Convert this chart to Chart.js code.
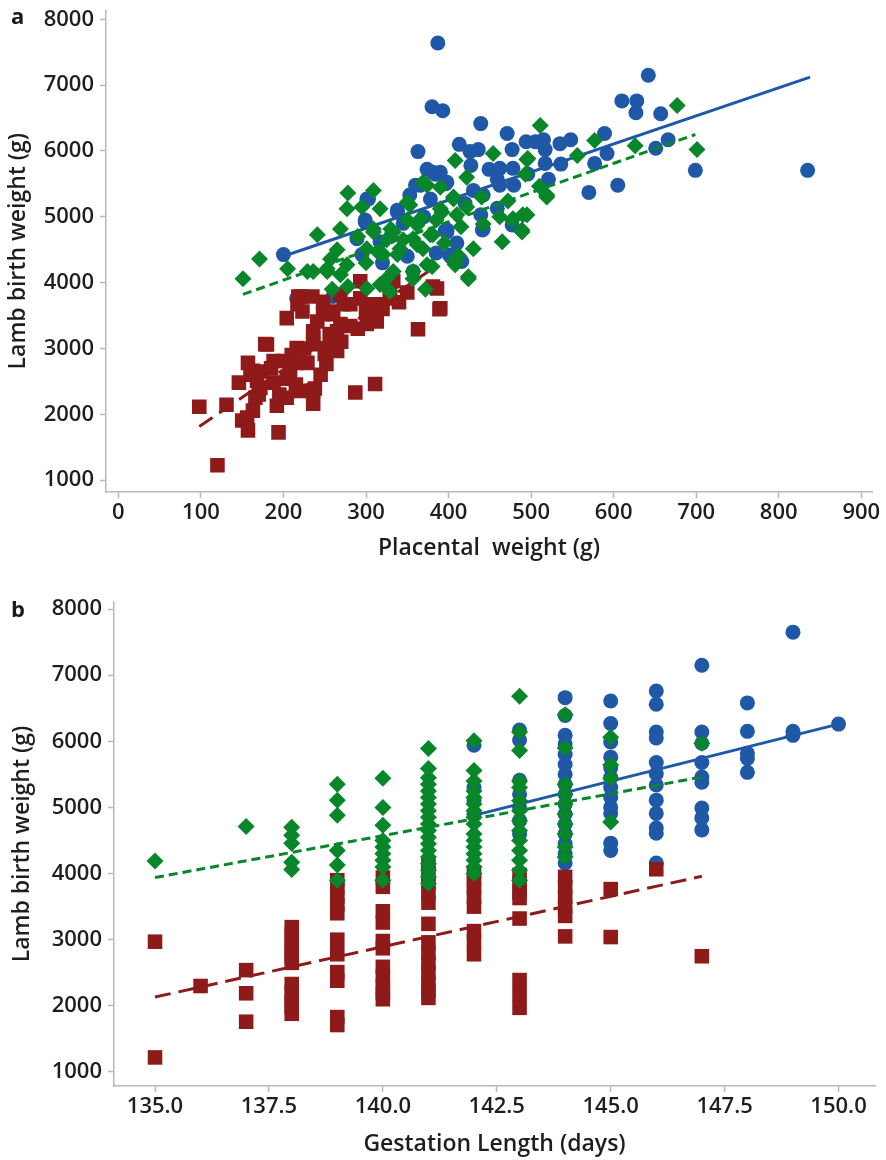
<!DOCTYPE html>
<html><head><meta charset="utf-8">
<script src="https://cdn.jsdelivr.net/npm/chart.js@4.4.1/dist/chart.umd.min.js"></script>
<style>
html,body{margin:0;padding:0;background:#fff;}
body{width:886px;height:1160px;position:relative;overflow:hidden;}
canvas{position:absolute;left:0;}
#ca{top:0px}
#cb{top:588px}
.lbl{position:absolute;font:700 22px/22px 'Open Sans',sans-serif;color:#1a1a1a;}
</style></head><body>
<canvas id="ca" width="886" height="575"></canvas>
<canvas id="cb" width="886" height="572"></canvas>
<div class="lbl" style="left:11px;top:4px">a</div>
<div class="lbl" style="left:11px;top:597px">b</div>
<script>
// ---------- Panel a: placental weight (g) vs lamb birth weight (g) ----------
const aSingles = [[387,7640],[380,6670],[393,6610],[439,6415],[642,7150],[610,6760],[628,6760],[627,6580],[657,6565],[699,5705],[835,5705],[589,6265],[592,5960],[577,5810],[570,5370],[605,5480],[651,6040],[666,6170],[413,6100],[436,6020],[426,5990],[427,5780],[471,6265],[477,6020],[494,6140],[505,6140],[515,6170],[517,6020],[535,6110],[548,6170],[517,5810],[536,5800],[521,5570],[449,5720],[462,5735],[478,5735],[459,5570],[479,5480],[496,5650],[462,5480],[442,5330],[396,5500],[390,5675],[459,5130],[439,5030],[396,4790],[442,4815],[477,4875],[401,4420],[416,4320],[363,5990],[374,5720],[384,5645],[360,5480],[301,5270],[299,4950],[289,4665],[338,5100],[398,4800],[441,4800],[200,4425],[299,4920],[303,5270],[295,4425],[317,4620],[338,5070],[366,5480],[381,5675],[398,5525],[357,4170],[398,4770],[378,5270],[353,5330],[216,3760],[260,3790],[265,3820],[330,4700],[345,4900],[370,5000],[410,4600],[420,5200],[350,4400],[385,4450],[320,4300],[430,5400]];
const aTwins = [[151,4060],[171,4360],[205,4210],[241,4725],[269,4815],[278,5360],[309,5400],[277,5120],[295,5150],[317,5120],[265,4500],[257,4360],[229,4170],[236,4170],[253,4170],[277,4270],[259,3900],[278,3940],[301,3910],[317,3970],[329,3865],[309,4770],[314,4470],[333,4770],[338,4425],[353,5180],[357,4665],[366,4970],[369,4515],[333,4170],[325,4060],[357,4170],[374,4270],[380,4245],[372,3900],[390,5120],[406,5270],[410,5030],[381,4725],[406,4320],[374,5480],[511,6385],[408,5855],[454,5960],[495,5870],[556,5930],[577,6160],[422,5600],[440,5300],[472,5240],[493,5645],[519,5300],[462,5000],[478,4970],[495,5030],[489,4800],[442,4890],[465,4620],[424,4060],[430,4515],[408,4320],[350,5220],[369,5525],[390,5450],[406,5300],[422,5150],[392,5070],[378,4725],[362,4575],[341,4515],[321,4425],[301,4515],[330,4815],[362,4875],[309,4815],[269,4120],[253,4210],[357,4060],[677,6690],[701,6020],[626,6080],[496,5885],[519,5330],[510,5465],[490,5030],[489,4770],[477,4950],[412,4410],[408,4270],[424,4090],[345,4650],[395,4600],[385,4950],[325,4650],[415,4850],[300,4300],[350,4950],[290,4700]];
const aTriplets = [[98,2115],[120,1225],[131,2145],[146,2480],[157,2780],[150,1905],[156,1950],[157,1755],[163,2660],[166,2250],[163,2055],[168,2510],[172,2400],[180,3060],[188,2810],[188,2480],[194,1725],[192,2130],[200,2810],[204,2250],[204,2540],[216,3005],[208,2660],[216,2780],[229,2780],[220,2355],[204,3460],[217,3670],[222,3790],[235,3790],[236,2360],[236,2160],[238,2390],[236,3260],[236,3065],[248,3520],[250,2915],[252,2765],[256,3220],[265,2960],[260,3520],[273,3670],[281,3340],[287,2330],[293,3760],[301,3370],[309,3520],[311,2460],[317,3670],[329,3760],[363,3290],[386,3910],[389,3595],[269,3820],[218,3790],[248,3710],[223,3560],[260,3560],[281,3670],[293,4020],[309,3670],[313,3410],[329,3820],[333,4020],[381,3940],[390,3610],[241,3410],[269,3370],[178,3065],[236,3160],[253,3005],[265,3260],[170,2300],[160,2600],[210,2900],[245,2600],[175,2650],[185,2700],[225,3000],[270,3100],[290,3300],[300,3550],[340,3700],[350,3850],[320,3600],[195,2300],[215,2450]];
const aSinglesFit = [[200,4400],[838,7120]];
const aTwinsFit = [[151,3820],[699,6250]];
const aTripletsFit = [[98,1815],[385,4250]];
const aXTicks = [0,100,200,300,400,500,600,700,800,900];
const aYTicks = [1000,2000,3000,4000,5000,6000,7000,8000];

// ---------- Panel b: gestation length (days) vs lamb birth weight (g) ----------
const bSingles = [[142,[5940,5300,5100,4900]],[143,[6170,6020,5410,5200,5000,4800,4600]],[144,[6660,6390,6090,5960,5800,5650,5500,5350,5200,5050,4900,4750,4600,4450,4300,4160]],[145,[6610,6270,5990,5760,5600,5450,5300,5150,5000,4910,4460,4350]],[146,[6760,6560,6140,6050,5680,5510,5340,5110,4910,4690,4610,4160]],[147,[7150,6140,5970,5680,5460,5380,4990,4840,4660]],[148,[6580,6150,5820,5740,5530]],[149,[7650,6150,6090]],[150,[6260]]];
const bTwins = [[135,[4190]],[137,[4710]],[138,[4700,4580,4460,4170,4060]],[139,[5350,5110,4880,4350,4130,3900]],[140,[5440,5000,4730,4500,4400,4300,4200,4100,3900]],[141,[5890,5590,5450,5350,5250,5150,5050,4950,4850,4750,4650,4550,4450,4350,4250,4150,4050,3950,3850]],[142,[6010,5560,5400,5250,5150,5050,4950,4850,4750,4600,4500,4400,4300,4200,4100,4000]],[143,[6680,6140,5860,5400,5300,5100,4950,4800,4650,4500,4350,4200,4050,3900]],[144,[6400,5900,5350,5200,5050,4900,4750,4600,4400,4250]],[145,[6060,5640,5440,4780]],[147,[5970]]];
const bTriplets = [[135,[2970,1220]],[136,[2300]],[137,[2540,2190,1760]],[138,[3190,3080,2960,2850,2750,2650,2330,2200,2080,1980,1880]],[139,[3900,3780,3650,3530,3400,3000,2780,2510,2380,1830,1710]],[140,[3940,3800,3430,3260,2980,2870,2590,2450,2300,2200,2100]],[141,[4150,4000,3850,3700,3560,3240,2960,2800,2650,2500,2350,2230,2120]],[142,[4020,3900,3780,3650,3500,3130,2980,2780]],[143,[3980,3850,3720,3630,3320,2390,2180,1970]],[144,[3950,3800,3650,3500,3360,3050]],[145,[3765,3040]],[146,[4065]],[147,[2750]]];
const bSinglesFit = [[142,4880],[150,6260]];
const bTwinsFit = [[135,3940],[147,5460]];
const bTripletsFit = [[135,2133],[147,3960]];
const bXTicks = [135,137.5,140,142.5,145,147.5,150];
const bYTicks = [1000,2000,3000,4000,5000,6000,7000,8000];

// ---------- styling ----------
const FONT = "'Open Sans', sans-serif";
const AXIS = '#b8b8b8';
const TXT = '#1e1e1e';
const BLUE = '#1f58a6';
const GREEN = '#07862a';
const RED = '#8e1a1a';

const pairs = a => a.map(([x,y]) => ({x, y}));
const cols = a => a.flatMap(([d, ws]) => ws.map(w => ({x: d, y: w})));

function pts(data, color, style, r, order) {
  return {data, backgroundColor: color, borderColor: color, borderWidth: 0,
    pointStyle: style, pointRadius: r, pointHoverRadius: r, showLine: false, order};
}
function fit(data, color, dash, order) {
  return {data: pairs(data), borderColor: color, backgroundColor: color, borderWidth: 3,
    borderDash: dash, pointRadius: 0, pointHoverRadius: 0, showLine: true, fill: false, tension: 0, order};
}
function scale(min, max, ticks, fmt, title, titlePad, isX, size) {
  return {
    type: 'linear', min, max,
    afterBuildTicks: s => { s.ticks = ticks.map(v => ({value: v})); },
    afterFit: s => {
      if (isX) { s.height = size; s.paddingLeft = 0; s.paddingRight = 0; }
      else { s.width = size; s.paddingTop = 0; s.paddingBottom = 0; }
    },
    border: {display: true, color: AXIS, width: 1.5},
    grid: {display: true, drawOnChartArea: false, drawTicks: true, tickLength: 6, tickColor: AXIS, tickWidth: 1.5},
    ticks: {color: TXT, font: {family: FONT, size: 22, weight: '600'}, padding: isX ? 2 : 6,
      maxRotation: 0, minRotation: 0, autoSkip: false, callback: fmt},
    title: {display: true, text: title, color: TXT, font: {family: FONT, size: 23, weight: '600'}, padding: titlePad}
  };
}
function makeChart(id, datasets, xs, ys, pad) {
  return new Chart(document.getElementById(id), {
    type: 'scatter',
    data: {datasets},
    options: {
      responsive: false, animation: false, devicePixelRatio: 1,
      layout: {padding: pad},
      plugins: {legend: {display: false}, tooltip: {enabled: false}},
      scales: {x: xs, y: ys}
    }
  });
}

makeChart('ca', [
  fit(aTwinsFit, GREEN, [9, 5], 0),
  pts(pairs(aTwins), GREEN, 'rectRot', 8.5, 1),
  fit(aTripletsFit, RED, [16, 8], 2),
  pts(pairs(aTriplets), RED, 'rect', 10.3, 3),
  fit(aSinglesFit, BLUE, [], 4),
  pts(pairs(aSingles), BLUE, 'circle', 7.5, 5)
],
  scale(-15, 913, aXTicks, v => String(v), 'Placental  weight (g)', {top: 0, bottom: 0}, true, 70),
  scale(819, 8136, aYTicks, v => String(v), 'Lamb birth weight (g)', {top: 5, bottom: 0}, false, 106),
  {left: 0, top: 8, right: 14, bottom: 13}
);

makeChart('cb', [
  fit(bTwinsFit, GREEN, [9, 5], 0),
  pts(cols(bTwins), GREEN, 'rectRot', 8.5, 1),
  fit(bTripletsFit, RED, [16, 8], 2),
  pts(cols(bTriplets), RED, 'rect', 10.3, 3),
  fit(bSinglesFit, BLUE, [], 4),
  pts(cols(bSingles), BLUE, 'circle', 7.5, 5)
],
  scale(134.1, 150.8, bXTicks, v => Number(v).toFixed(1), 'Gestation Length (days)', {top: 0, bottom: 0}, true, 72),
  scale(788, 8106, bYTicks, v => String(v), 'Lamb birth weight (g)', {top: 9, bottom: 0}, false, 114),
  {left: 0, top: 14, right: 11, bottom: 2}
);
</script>
</body></html>
